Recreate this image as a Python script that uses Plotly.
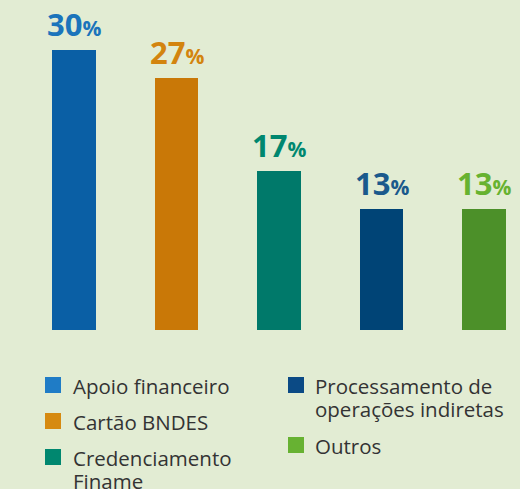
import plotly.graph_objects as go

# Share of each product line (%)
categories = ["Apoio financeiro", "Cartão BNDES", "Credenciamento Finame",
              "Processamento de operações indiretas", "Outros"]
values = [30, 27, 17, 13, 13]

# Legend text, split into the lines it is set in (two columns)
legend_left = [["Apoio financeiro"], ["Cartão BNDES"], ["Credenciamento", "Finame"]]
legend_right = [["Processamento de", "operações indiretas"], ["Outros"]]

bar_colors = ["#0a5fa5", "#c97807", "#00796a", "#004476", "#4c9029"]
label_colors = ["#1b74bb", "#d3840e", "#00876f", "#1a598c", "#67b230"]
swatch_colors = ["#1f7cc6", "#d68a10", "#00876f", "#0b4a85", "#67b232"]

BG = "#e2ecd3"
W, H = 520, 489
PLOT_BOTTOM = 330  # pixel row of the bar baseline
LEG_FONT = 20.5
LINE_GAP = 23

fig = go.Figure()
fig.add_trace(go.Bar(
    x=list(range(len(categories))),
    y=values,
    marker=dict(color=bar_colors, line=dict(width=0)),
    width=0.42,
    hoverinfo="skip",
    showlegend=False,
))

# Value labels above the bars: big bold number with a smaller percent sign
for i, v in enumerate(values):
    fig.add_annotation(
        x=i, y=v, xref="x", yref="y",
        text=f"<b>{v}</b><span style='font-size:21px'><b>%</b></span>",
        showarrow=False, yanchor="bottom", yshift=3,
        font=dict(family="Open Sans", size=31, color=label_colors[i]),
    )

def px_to_paper(px, py):
    return px / W, (H - py) / H

# Legend: coloured squares + text lines
def legend_item(sq_x, sq_top, text_x, lines, color):
    x0, y1 = px_to_paper(sq_x, sq_top)
    x1, y0 = px_to_paper(sq_x + 16, sq_top + 16)
    fig.add_shape(type="rect", xref="paper", yref="paper",
                  x0=x0, x1=x1, y0=y0, y1=y1,
                  fillcolor=color, line=dict(width=0))
    # first baseline sits at the square's bottom edge
    top = sq_top + 15 - 22
    for k, line in enumerate(lines):
        tx, ty = px_to_paper(text_x, top + k * LINE_GAP)
        fig.add_annotation(x=tx, y=ty, xref="paper", yref="paper",
                           text=line, showarrow=False, align="left",
                           xanchor="left", yanchor="top",
                           font=dict(family="Open Sans", size=LEG_FONT,
                                     color="#333333"))

left_tops = [377, 413, 449]
for lines, top, col in zip(legend_left, left_tops, swatch_colors[:3]):
    legend_item(45, top, 71, lines, col)

right_tops = [377, 437]
for lines, top, col in zip(legend_right, right_tops, swatch_colors[3:]):
    legend_item(288, top, 313, lines, col)

px_per_unit = 102.5
x_start = -74 / px_per_unit
fig.update_layout(
    width=W, height=H,
    margin=dict(l=0, r=0, t=0, b=0),
    paper_bgcolor=BG, plot_bgcolor=BG,
    bargap=0,
    xaxis=dict(range=[x_start, x_start + W / px_per_unit], visible=False,
               fixedrange=True),
    yaxis=dict(range=[0, PLOT_BOTTOM / 9.333], visible=False,
               domain=[(H - PLOT_BOTTOM) / H, 1], fixedrange=True),
    showlegend=False,
)

fig.write_html("out.html")
